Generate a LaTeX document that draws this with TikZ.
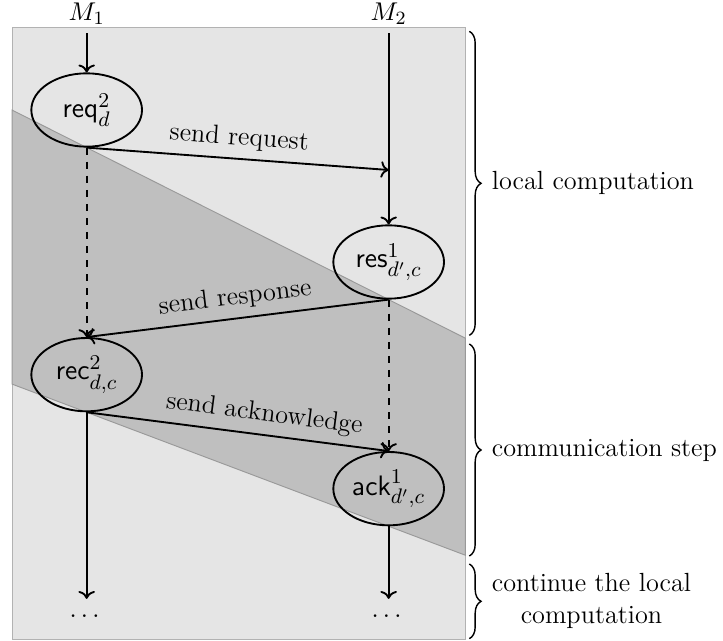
\documentclass[tikz,border=0pt]{standalone}
\usepackage{amsmath,amssymb}
\usetikzlibrary{arrows.meta,positioning,calc,shapes.geometric,backgrounds,decorations.pathreplacing}

\begin{document}
\begin{tikzpicture}[thick,font=\fontsize{11.2}{13.6}\selectfont,
  state/.style={draw,ellipse,minimum width=16.6mm,minimum height=11mm,inner xsep=-2pt,inner ysep=1pt,
    font=\fontsize{12.4}{15}\selectfont},
  msg/.style={->,thick},
  wait/.style={->,thick,dashed},
  phase/.style={decorate,decoration={brace,amplitude=5pt},semithick}]
  \useasboundingbox (0,0) rectangle (10.845,-9.615);
  % the two machines
  \node (m1) at (1.3,-0.21) {$M_1$};
  \node (m2) at (5.83,-0.21) {$M_2$};
  \node[state] (req) at (1.3,-1.65) {$\mathsf{req}^2_d$};
  \node[state] (res) at (5.83,-3.93) {$\mathsf{res}^1_{d',c}$};
  \node[state] (rec) at (1.3,-5.62) {$\mathsf{rec}^2_{d,c}$};
  \node[state] (ack) at (5.83,-7.33) {$\mathsf{ack}^1_{d',c}$};
  \coordinate (sreq) at (5.83,-2.55);
  \node (end1) at (1.3,-9.24) {$\dots$};
  \node (end2) at (5.83,-9.24) {$\dots$};

  % shading of the phases
  \begin{scope}[on background layer]
    \draw[black!30,fill=black!10,thin] (0.18,-0.41) rectangle (6.98,-9.59);
    \draw[black!40,fill=black!25,thin]
      ($(req.south)!-0.247!(res.south)$) -- ($(req.south)!1.254!(res.south)$)
      -- ($(rec.south)!1.254!(ack.south)$) -- ($(rec.south)!-0.247!(ack.south)$) -- cycle;
  \end{scope}

  \draw[msg] (m1) -- (req);
  \draw[msg] (m2) -- (res);
  \draw[msg] (req.south) -- node[above,sloped] {send request} (sreq);
  \draw[wait] (req) -- (rec);
  \draw[msg] (res.south) -- node[above,sloped] {send response} (rec.north);
  \draw[wait] (res) -- (ack);
  \draw[msg] (rec.south) -- node[above,sloped,pos=0.58] {send acknowledge} (ack.north);
  \draw[msg,shorten >=3pt] (rec) -- (end1);
  \draw[msg,shorten >=3pt] (ack) -- (end2);

  % phases
  \draw[phase] (7.04,-0.47) -- node[right=6pt] (loc) {local computation} (7.04,-5.03);
  \draw[phase] (7.04,-5.16) -- node[right=6pt] (com) {communication step} (7.04,-8.34);
  \draw[phase] (7.04,-8.46) -- node[right=6pt,align=center] (cont) {continue the local\\computation} (7.04,-9.58);
\end{tikzpicture}
\end{document}
